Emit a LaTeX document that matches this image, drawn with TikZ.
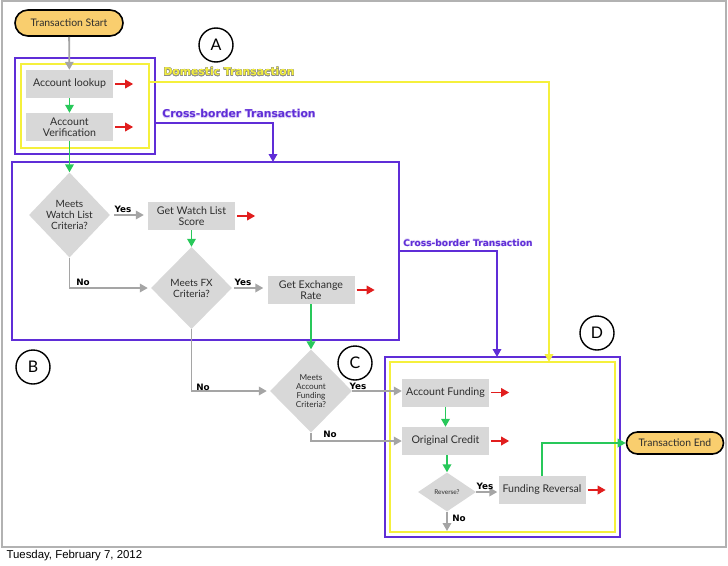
\documentclass[tikz,border=0pt]{standalone}
\usepackage{fontspec}
\setmainfont{Lato}
\newfontfamily\datefont{Liberation Sans}
\newfontfamily\heavyfont{DejaVu Sans}
\usepackage{xcolor}
\usepackage{contour}
\usetikzlibrary{shapes.geometric,arrows.meta}
\definecolor{flowpurple}{RGB}{95,45,215}
\definecolor{flowyellow}{RGB}{245,240,60}
\definecolor{flowgreen}{RGB}{40,200,90}
\definecolor{flowred}{RGB}{225,30,30}
\definecolor{flowgray}{RGB}{165,165,165}
\definecolor{boxgray}{RGB}{216,216,216}
\definecolor{pillfill}{RGB}{249,206,110}
\definecolor{inktext}{RGB}{45,45,45}

\tikzset{
  procbox/.style={fill=boxgray, minimum width=87pt, minimum height=28pt, align=center, inner sep=1pt, text=inktext, font=\fontsize{10.6}{11.5}\selectfont},
  decision/.style={diamond, fill=boxgray, align=center, inner sep=0pt, text=inktext, font=\fontsize{10}{11}\selectfont},
  pill/.style={draw=black, line width=1.6pt, fill=pillfill, rounded corners=11pt, text=inktext, font=\fontsize{10.4}{11}\selectfont},
  letter/.style={circle, draw=black, line width=1.4pt, minimum size=34pt, inner sep=0pt, font=\fontsize{16}{16}\selectfont},
  flowtip/.style={-{Triangle[length=8pt,width=8.5pt]}},
  grayarr/.style={flowtip, draw=flowgray, line width=1.8pt},
  greenarr/.style={flowtip, draw=flowgreen, line width=1.8pt},
  redarr/.style={flowtip, draw=flowred, line width=1.8pt},
  purplearr/.style={flowtip, draw=flowpurple, line width=1.8pt},
  yellowarr/.style={flowtip, draw=flowyellow, line width=1.8pt},
  yesno/.style={font=\heavyfont\bfseries\fontsize{8.8}{9}\selectfont},
  routelabel/.style={font=\heavyfont\bfseries\fontsize{10.8}{12}\selectfont}
}
\newcommand{\outarrow}[1]{\draw[redarr] ([xshift=2pt]#1.east) -- ++(18pt,0);}

\begin{document}
\begin{tikzpicture}[x=1pt, y=-1pt]
  \useasboundingbox (0,0) rectangle (728,565);

  % Slide frame and date
  \draw[gray!60, line width=1.2pt] (2,1) rectangle (726,547);
  \node[font=\datefont\fontsize{11.4}{13}\selectfont, anchor=west] (date) at (3,556) {Tuesday, February 7, 2012};

  % Containers
  \node[draw=flowpurple, line width=1.8pt, minimum width=140pt, minimum height=96pt] (crossA) at (85,106) {};
  \node[draw=flowyellow, line width=1.8pt, minimum width=128pt, minimum height=84pt] (domA) at (85,106) {};
  \node[draw=flowpurple, line width=1.8pt, minimum width=387pt, minimum height=178pt] (fxbox) at (205.5,251) {};
  \node[draw=flowpurple, line width=1.8pt, minimum width=235pt, minimum height=180pt] (crossD) at (502.5,447) {};
  \node[draw=flowyellow, line width=1.8pt, minimum width=225pt, minimum height=170pt] (domD) at (502.5,447) {};

  % Section letters
  \node[letter] (letA) at (216,45) {A};
  \node[letter] (letB) at (33,367) {B};
  \node[letter] (letC) at (355,363) {C};
  \node[letter] (letD) at (597,333) {D};

  % Start and end
  \node[pill, minimum width=108pt, minimum height=26pt, rounded corners=13pt] (start) at (69,23) {Transaction Start};
  \node[pill, minimum width=97pt, minimum height=22pt] (txend) at (675,443) {Transaction End};

  % Section A
  \node[procbox] (lookup) at (69.5,84) {Account lookup};
  \node[procbox] (verify) at (69.5,127) {Account\\Verification};

  % Section B
  \node[decision, minimum width=81pt, minimum height=85pt] (watch) at (69.5,215) {Meets\\Watch List\\Criteria?};
  \node[procbox] (wlscore) at (191.5,216) {Get Watch List\\Score};
  \node[decision, minimum width=81pt, minimum height=82pt] (fxcrit) at (191.5,288) {Meets FX\\Criteria?};
  \node[procbox] (exrate) at (311,290) {Get Exchange\\Rate};

  % Section C
  \node[decision, minimum width=82pt, minimum height=83pt, font=\fontsize{8.2}{9}\selectfont] (fundcrit) at (311,391) {Meets\\Account\\Funding\\Criteria?};

  % Section D
  \node[procbox] (acctfund) at (445.5,392.5) {Account Funding};
  \node[procbox] (origcred) at (445.5,441) {Original Credit};
  \node[decision, minimum width=58pt, minimum height=39pt, font=\fontsize{6.5}{7}\selectfont] (reverse) at (447,492) {Reverse?};
  \node[procbox] (fundrev) at (542,490) {Funding Reversal};
  \coordinate (revno) at (447,531);

  % Route labels
  \node[routelabel, text=flowyellow] (domlabel) at (229,72) {\contour{gray!90}{Domestic Transaction}};
  \node[routelabel, text=flowpurple] (crosslabel) at (239,114) {\contour{flowpurple!20}{Cross-border Transaction}};
  \node[routelabel, text=flowpurple, font=\heavyfont\bfseries\fontsize{9.1}{10}\selectfont] (crosslabelB) at (468,243) {\contour{flowpurple!20}{Cross-border Transaction}};
  \coordinate (domin) at (549,362);
  \coordinate (crossinB) at (273,162);
  \coordinate (crossinD) at (497,357);

  % Route connectors
  \draw[yellowarr] (domA.east |- 0,82) -| (domin);
  \draw[purplearr] (crossA.east |- 0,123) -| (crossinB);
  \draw[purplearr] (fxbox.east) -| (crossinD);

  % Flow connectors
  \draw[grayarr] (start) -- (lookup);
  \draw[greenarr] (lookup) -- (verify);
  \draw[greenarr] (verify) -- (watch);
  \draw[grayarr, shorten <=4pt, shorten >=4pt] (watch) -- (watch -| wlscore.west);
  \draw[greenarr] (wlscore) -- (fxcrit);
  \draw[grayarr, shorten >=3pt] (watch) |- (fxcrit);
  \draw[grayarr, shorten <=2pt, shorten >=4pt] (fxcrit.east) -- (fxcrit.east -| exrate.west);
  \draw[greenarr] (exrate) -- (fundcrit);
  \draw[grayarr, shorten >=3pt] (fxcrit) |- (fundcrit);
  \draw[grayarr] (fundcrit.east) -- (fundcrit.east -| acctfund.west);
  \draw[grayarr] (fundcrit.south) |- (origcred);
  \draw[greenarr] (acctfund) -- (origcred);
  \draw[greenarr] (origcred.south -| reverse) -- (reverse);
  \draw[grayarr, shorten >=1pt] (reverse.east) -- (reverse.east -| fundrev.west);
  \draw[grayarr] (reverse) -- (revno);
  \draw[greenarr] (fundrev) |- (txend);

  % Outgoing red arrows
  \outarrow{lookup}
  \outarrow{verify}
  \outarrow{wlscore}
  \outarrow{exrate}
  \outarrow{acctfund}
  \outarrow{origcred}
  \outarrow{fundrev}

  % Yes / No labels
  \node[yesno] (yes1) at (123,209) {Yes};
  \node[yesno] (no1) at (83,282) {No};
  \node[yesno] (yes2) at (243,282) {Yes};
  \node[yesno] (no2) at (203,387) {No};
  \node[yesno] (yes3) at (358,386) {Yes};
  \node[yesno] (no3) at (330,434) {No};
  \node[yesno] (yes4) at (485,486) {Yes};
  \node[yesno] (no4) at (459,518) {No};
\end{tikzpicture}
\end{document}
